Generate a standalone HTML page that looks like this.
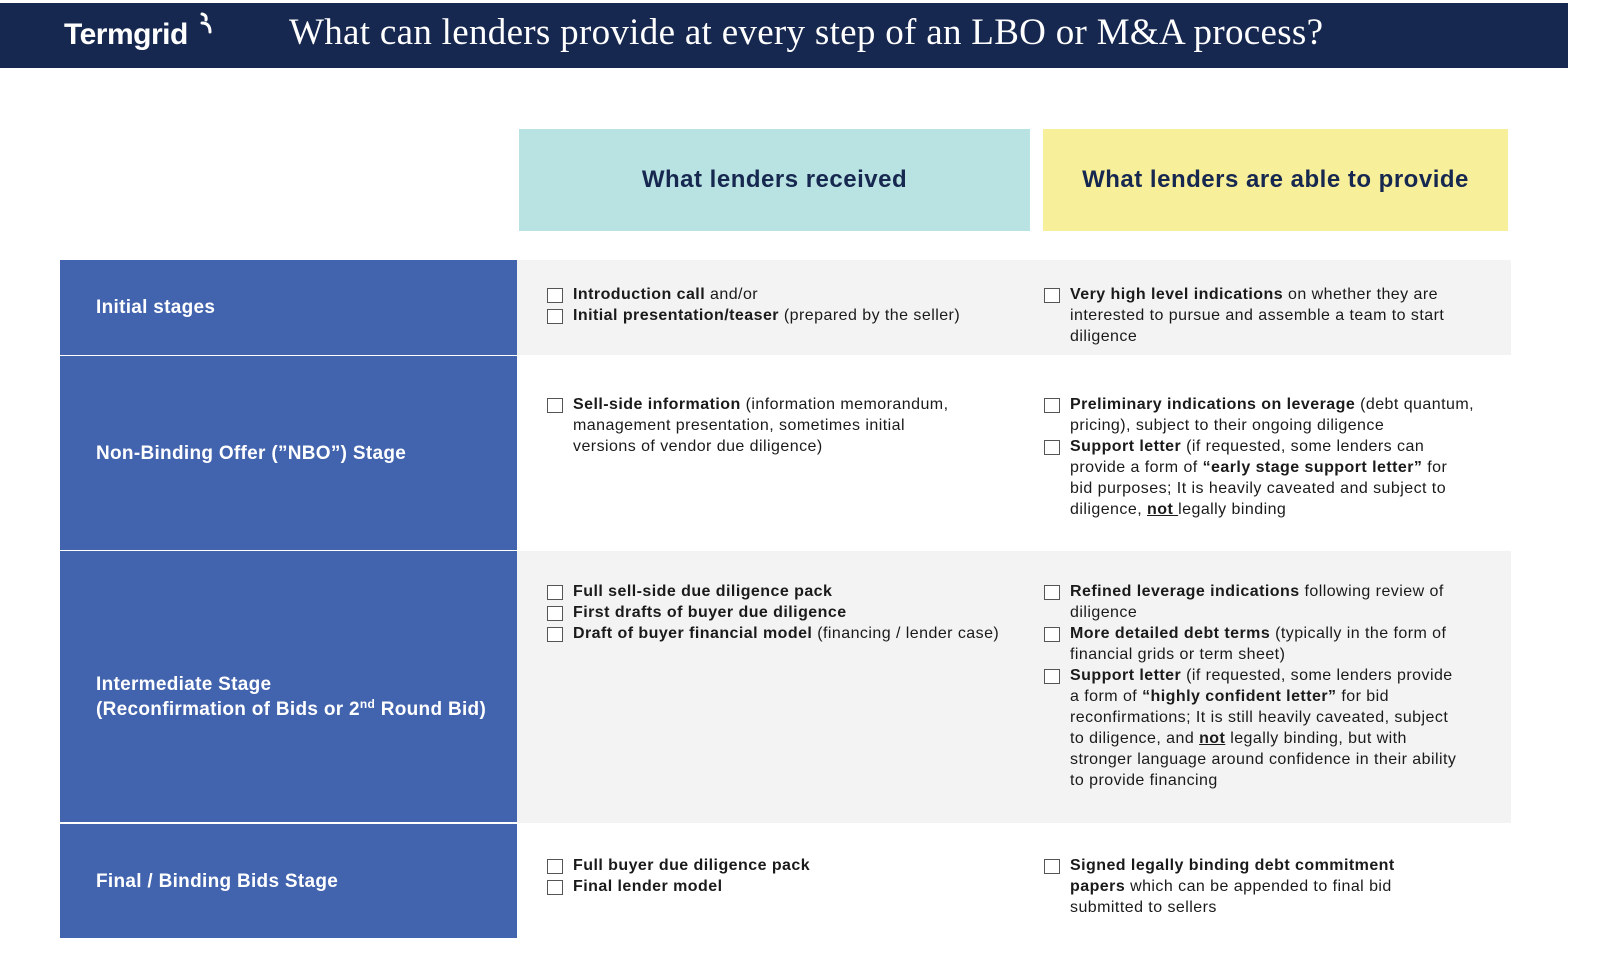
<!DOCTYPE html>
<html><head><meta charset="utf-8"><style>
*{margin:0;padding:0;box-sizing:border-box}
body{width:1600px;height:964px;background:#fff;position:relative;overflow:hidden;font-family:"Liberation Sans",sans-serif;color:#1a1a1a}
.a{position:absolute}
.hdr{left:0;top:3px;width:1568px;height:65px;background:#172850}
.logo{left:64px;top:18px;color:#fff;font-weight:bold;font-size:30px;letter-spacing:-0.5px}
.title{left:289px;top:11px;color:#fff;font-family:"Liberation Serif",serif;font-size:37px;letter-spacing:0.3px;white-space:nowrap}
.ch{display:flex;align-items:center;justify-content:center;font-size:24px;color:#172850;font-weight:bold;letter-spacing:0.5px}
.blue{left:60px;width:457px;background:#4263ae;color:#fff;font-weight:bold;font-size:19px;letter-spacing:0.3px;padding-left:36px;display:flex;align-items:center;line-height:25px}
.gray{left:517px;width:994px;background:#f3f3f3}
.it{font-size:16px;line-height:21px;letter-spacing:0.45px;white-space:nowrap;padding-left:26px;position:absolute}
.it::before{content:"";position:absolute;left:0;top:4px;width:14px;height:13px;border:1px solid #555;background:#fff}
b{font-weight:bold}
u{text-decoration:underline;font-weight:bold}
sup{font-size:12px;position:relative;top:-7px;vertical-align:baseline}
</style></head><body>
<div class="a hdr"></div>
<div class="a logo">Termgrid</div>
<svg class="a" style="left:199px;top:12px" width="18" height="24"><path d="M3 2 Q8 3 7 8 M3 11 Q11 11 11 20" stroke="#fff" stroke-width="3" fill="none" stroke-linecap="round"/></svg>
<div class="a title">What can lenders provide at every step of an LBO or M&amp;A process?</div>

<div class="a ch" style="left:519px;top:129px;width:511px;height:102px;background:#b9e3e2">What lenders received</div>
<div class="a ch" style="left:1043px;top:129px;width:465px;height:102px;background:#f8ef9a">What lenders are able to provide</div>

<div class="a gray" style="top:260px;height:95px"></div>
<div class="a gray" style="top:551px;height:272px"></div>

<div class="a blue" style="top:260px;height:95px">Initial stages</div>
<div class="a blue" style="top:356px;height:194px">Non-Binding Offer (”NBO”) Stage</div>
<div class="a blue" style="top:551px;height:271px;padding-top:22px"><div>Intermediate Stage<br>(Reconfirmation of Bids or 2<sup>nd</sup> Round Bid)</div></div>
<div class="a blue" style="top:824px;height:114px">Final / Binding Bids Stage</div>

<div class="it" style="left:547px;top:284px"><b>Introduction call</b> and/or</div>
<div class="it" style="left:547px;top:305px"><b>Initial presentation/teaser</b> (prepared by the seller)</div>
<div class="it" style="left:1044px;top:284px"><b>Very high level indications</b> on whether they are<br>interested to pursue and assemble a team to start<br>diligence</div>

<div class="it" style="left:547px;top:394px"><b>Sell-side information</b> (information memorandum,<br>management presentation, sometimes initial<br>versions of vendor due diligence)</div>
<div class="it" style="left:1044px;top:394px"><b>Preliminary indications on leverage</b> (debt quantum,<br>pricing), subject to their ongoing diligence</div>
<div class="it" style="left:1044px;top:436px"><b>Support letter</b> (if requested, some lenders can<br>provide a form of <b>“early stage support letter”</b> for<br>bid purposes; It is heavily caveated and subject to<br>diligence, <u>not </u>legally binding</div>

<div class="it" style="left:547px;top:581px"><b>Full sell-side due diligence pack</b></div>
<div class="it" style="left:547px;top:602px"><b>First drafts of buyer due diligence</b></div>
<div class="it" style="left:547px;top:623px"><b>Draft of buyer financial model</b> (financing / lender case)</div>
<div class="it" style="left:1044px;top:581px"><b>Refined leverage indications</b> following review of<br>diligence</div>
<div class="it" style="left:1044px;top:623px"><b>More detailed debt terms</b> (typically in the form of<br>financial grids or term sheet)</div>
<div class="it" style="left:1044px;top:665px"><b>Support letter</b> (if requested, some lenders provide<br>a form of <b>“highly confident letter”</b> for bid<br>reconfirmations; It is still heavily caveated, subject<br>to diligence, and <u>not</u> legally binding, but with<br>stronger language around confidence in their ability<br>to provide financing</div>

<div class="it" style="left:547px;top:855px"><b>Full buyer due diligence pack</b></div>
<div class="it" style="left:547px;top:876px"><b>Final lender model</b></div>
<div class="it" style="left:1044px;top:855px"><b>Signed legally binding debt commitment<br>papers</b> which can be appended to final bid<br>submitted to sellers</div>
</body></html>
